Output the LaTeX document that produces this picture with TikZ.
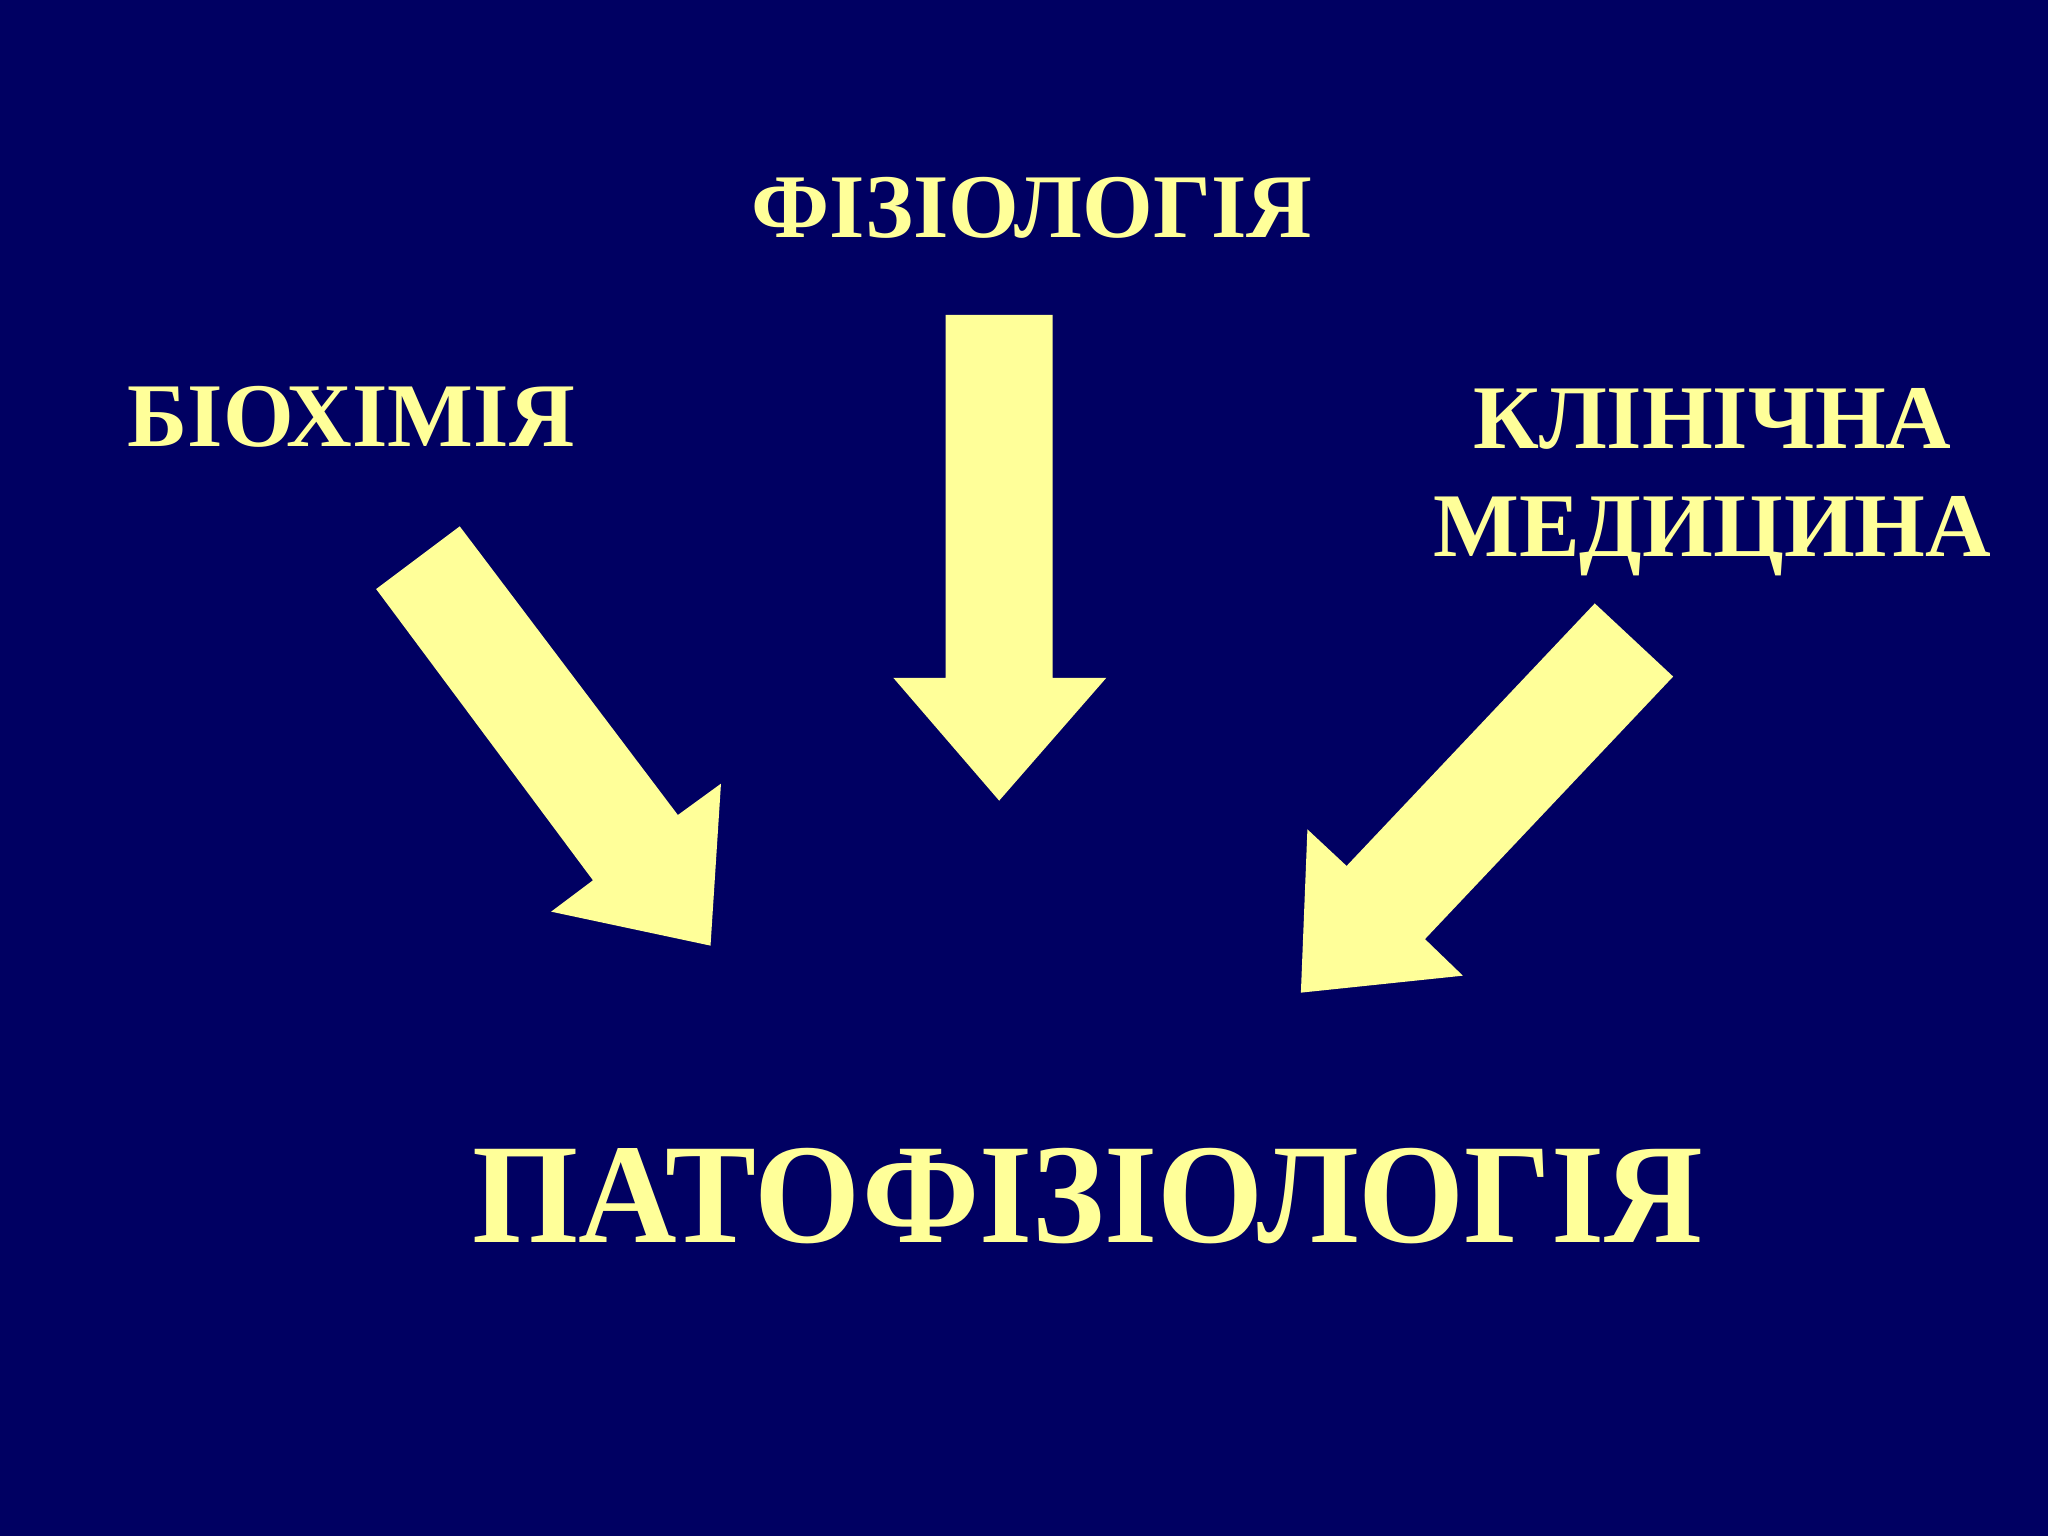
\documentclass[tikz,border=0pt]{standalone}
\usepackage{fontspec}
\setmainfont{Liberation Serif}
\usepackage{tikz}
\usetikzlibrary{calc}
\definecolor{slidebg}{RGB}{0,0,98}
\definecolor{paleyellow}{RGB}{255,255,153}

\begin{document}
\begin{tikzpicture}[x=0.01cm,y=-0.01cm,
  lbl/.style={text=paleyellow,font=\bfseries\fontsize{19.8}{23.6}\selectfont,align=center,inner sep=0pt},
  blockarrow/.style={fill=paleyellow,draw=none}]
\fill[slidebg](0,0) rectangle (1568,1176);
\useasboundingbox(0,0) rectangle (1568,1176);

\node[lbl,anchor=base](fiz) at (790,182){ФІЗІОЛОГІЯ};
\node[lbl,anchor=base](bio) at (269,342){БІОХІМІЯ};
\node[lbl,anchor=base](klin) at (1311,426){КЛІНІЧНА\\МЕДИЦИНА};
\node[text=paleyellow,inner sep=0pt,anchor=base](pato) at (833,951)
  {\scalebox{0.958}[1]{\bfseries\fontsize{31}{36}\selectfont ПАТОФІЗІОЛОГІЯ}};

\fill[blockarrow](724,241)--(806,241)--(806,519)--(847,519)--(765,613)--(684,519)--(724,519)--cycle;
\fill[blockarrow](288,451)--(352,403)--(519,624)--(552,600)--(544,724)--(422,698)--(454,674)--cycle;
\fill[blockarrow](1221,462)--(1281,518)--(1091,719)--(1120,747)--(996,760)--(1001,635)--(1031,663)--cycle;
\end{tikzpicture}
\end{document}
